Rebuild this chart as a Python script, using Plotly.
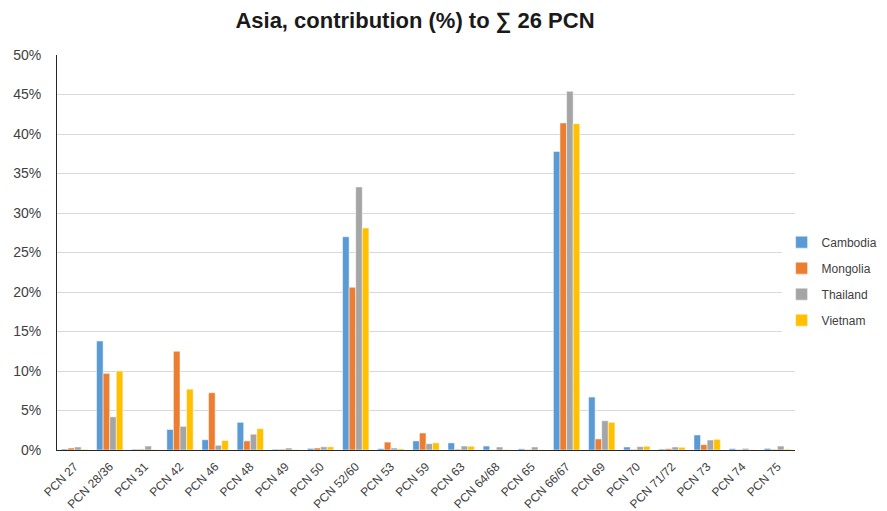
import plotly.graph_objects as go

categories = ["PCN 27", "PCN 28/36", "PCN 31", "PCN 42", "PCN 46", "PCN 48", "PCN 49", "PCN 50",
              "PCN 52/60", "PCN 53", "PCN 59", "PCN 63", "PCN 64/68", "PCN 65", "PCN 66/67",
              "PCN 69", "PCN 70", "PCN 71/72", "PCN 73", "PCN 74", "PCN 75"]

cambodia = [0.13, 13.8, 0.10, 2.6, 1.3, 3.5, 0.10, 0.20, 27.0, 0.17, 1.15, 0.90, 0.50, 0.15, 37.8,
            6.7, 0.38, 0.12, 1.9, 0.17, 0.20]
mongolia = [0.25, 9.7, 0.10, 12.5, 7.25, 1.15, 0.10, 0.25, 20.6, 1.0, 2.15, 0.10, 0.02, 0.05, 41.4,
            1.4, 0.08, 0.17, 0.68, 0.05, 0.08]
thailand = [0.38, 4.2, 0.50, 3.0, 0.6, 2.0, 0.25, 0.40, 33.3, 0.25, 0.80, 0.50, 0.38, 0.38, 45.4,
            3.7, 0.42, 0.38, 1.27, 0.20, 0.50]
vietnam = [0.08, 10.0, 0.05, 7.7, 1.2, 2.7, 0.05, 0.40, 28.1, 0.15, 0.90, 0.47, 0.05, 0.03, 41.3,
           3.5, 0.47, 0.34, 1.35, 0.03, 0.10]

series = [("Cambodia", cambodia, "#5B9BD5"), ("Mongolia", mongolia, "#ED7D31"),
          ("Thailand", thailand, "#A5A5A5"), ("Vietnam", vietnam, "#FFC000")]

fig = go.Figure()
for name, vals, col in series:
    fig.add_trace(go.Bar(x=categories, y=[v / 100 for v in vals], name=name, legendgroup=name,
                         marker=dict(color=col, line=dict(color="white", width=0.5))))

font_main = "Liberation Sans, Arial, sans-serif"
W, H = 879, 503
fig.update_layout(
    width=W, height=H,
    paper_bgcolor="white", plot_bgcolor="white",
    margin=dict(l=49, r=92, t=47, b=61, autoexpand=False),
    title=dict(text="<b>Asia, contribution (%) to ∑ 26 PCN</b>", x=0.463, xanchor="center",
               y=0.976, yanchor="middle",
               font=dict(family=font_main, size=22, color="#1a1a1a")),
    barmode="group", bargap=0.25, bargroupgap=0,
    font=dict(family=font_main, color="#404040"),
    legend=dict(xref="container", yref="container", x=0.995, xanchor="right", y=0.457,
                yanchor="middle", font=dict(family=font_main, size=12, color="#404040"),
                itemwidth=30, tracegroupgap=7),
    xaxis=dict(tickangle=-45, tickfont=dict(size=12, color="#404040"), showline=True,
               linecolor="#262626", linewidth=1, showgrid=False, ticks="", automargin=False,
               ticklabelstandoff=4),
    yaxis=dict(range=[0, 0.5], dtick=0.05, tickformat=".0%", tickfont=dict(size=14, color="#404040"),
               showgrid=True, gridcolor="#D9D9D9", gridwidth=1, showline=True,
               linecolor="#262626", linewidth=1, zeroline=False, ticks="", automargin=False,
               ticklabelstandoff=12),
)

fig.write_html("out.html")
